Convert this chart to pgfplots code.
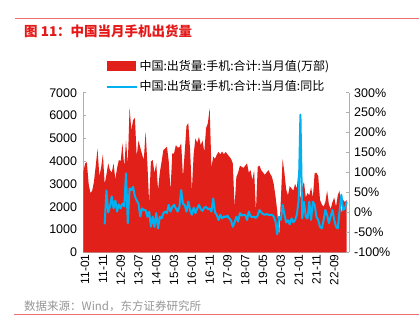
\documentclass[border=0pt]{standalone}
\usepackage{pgfplots}
\pgfplotsset{compat=1.18}
\usepackage{pgfplotstable}
\usepackage{fontspec}
\setmainfont{Liberation Sans}
\newfontfamily\cjk{Noto Sans CJK SC}
\definecolor{cred}{RGB}{226,32,26}
\definecolor{cblue}{RGB}{0,176,240}
\definecolor{ctitle}{RGB}{228,24,24}
\definecolor{cline}{RGB}{238,110,110}
\definecolor{cgray}{RGB}{150,150,150}
\definecolor{caxis}{RGB}{175,175,175}

\pgfplotstableread{
x y
-1 3500
0 3900
1 3950
2 3000
3 2600
4 2700
5 3100
6 3800
7 4550
8 3350
9 3700
10 4300
11 3000
12 3400
13 3900
14 3600
15 3500
16 3900
17 3200
18 3700
19 4050
20 4000
21 4780
22 3750
23 4900
24 3850
25 6350
26 5350
27 5800
28 5900
29 4200
30 4900
31 4600
32 4300
33 4050
34 5290
35 3900
36 2150
37 3980
38 4050
39 3470
40 3900
41 2730
42 3500
43 3980
44 4490
45 4550
46 4630
47 4000
48 2700
49 4340
50 4340
51 4700
52 4600
53 4600
54 4780
55 3300
56 4410
57 5550
58 5660
59 4500
60 2700
61 4300
62 5000
63 4800
64 5060
65 4700
66 4900
67 4400
68 5450
69 5660
70 6330
71 3700
72 4200
73 4100
74 4280
75 4400
76 4300
77 4420
78 4300
79 4400
80 4300
81 4200
82 4100
83 3900
84 2000
85 3300
86 3500
87 3800
88 3750
89 3700
90 3800
91 3900
92 3500
93 3600
94 3170
95 3600
96 1800
97 3750
98 3800
99 3600
100 3500
101 3400
102 3500
103 3600
104 3450
105 3300
106 3000
107 2450
108 1800
109 700
110 2300
111 4100
112 3500
113 2750
114 2500
115 2900
116 2800
117 2700
118 3000
119 2800
120 3700
121 2300
122 2850
123 3100
124 2400
125 2600
126 2500
127 2850
128 2400
129 3480
130 3480
131 3350
132 2300
133 2100
134 2000
135 2200
136 2700
137 2100
138 1900
139 2200
140 2400
141 2000
142 2500
143 2700
144 1700
145 2300
146 2200
147 2300
}\redtab

\pgfplotstableread{
x y
11 -30
12 55
13 0
14 15
15 40
16 10
17 30
18 2
19 20
20 10
21 22
22 15
23 98
24 -27
25 60
26 56
27 64
28 40
29 30
30 22
31 -10
32 10
33 6
34 6
35 -11
36 2
37 -36
38 -11
39 -36
40 -2
41 -40
42 -11
43 -15
44 -2
45 2
46 -2
47 19
48 2
49 14
50 19
51 10
52 2
53 14
54 56
55 22
56 18
57 2
58 27
59 6
60 -6
61 12
62 -2
63 10
64 19
65 8
66 4
67 12
68 14
69 8
70 10
71 2
72 35
73 0
74 -6
75 -19
76 -6
77 -15
78 -10
79 -12
80 -8
81 -15
82 -20
83 -36
84 -25
85 -11
86 -23
87 -2
88 -8
89 -6
90 -6
91 -19
92 2
93 -10
94 -12
95 -11
96 -14
97 -8
98 6
99 0
100 -4
101 -6
102 -4
103 -6
104 -6
105 -6
106 -10
107 -23
108 -55
109 -11
110 -19
111 19
112 -5
113 -25
114 -20
115 -30
116 -15
117 -25
118 -19
119 -6
120 30
121 245
122 -15
123 27
124 -11
125 -15
126 27
127 -19
128 27
129 19
130 -11
131 -19
132 -36
133 -40
134 -20
135 6
136 -6
137 -27
138 -10
139 6
140 -19
141 -36
142 -40
143 5
144 44
145 6
146 10
147 27
}\bluetab

\begin{document}
\begin{tikzpicture}
\useasboundingbox (0pt,0pt) rectangle (419pt,330pt);
\draw[cline, line width=1pt] (15pt,311pt) -- (419pt,311pt);
\node[anchor=west, text=ctitle, font=\cjk\bfseries\fontsize{13.5}{15}\selectfont, inner sep=0pt] at (24pt,299pt) {图 11：中国当月手机出货量};

\begin{axis}[
  at={(83.3pt,77.7pt)}, anchor=south west,
  scale only axis, width=265.7pt, height=159.6pt,
  xmin=-1, xmax=148.3, ymin=0, ymax=7000,
  axis y line*=left, axis x line*=bottom,
  axis line style={caxis, line width=0.8pt},
  tick style={caxis, line width=0.8pt},
  tick align=inside, major tick length=3pt,
  xtick={0,10,...,140},
  xticklabels={11-01,11-11,12-09,13-07,14-05,15-03,16-01,16-11,17-09,18-07,19-05,20-03,21-01,21-11,22-09},
  xticklabel style={rotate=90, anchor=east, font=\fontsize{12}{12}\selectfont, inner sep=2pt},
  ytick={0,1000,...,7000},
  yticklabels={0,1000,2000,3000,4000,5000,6000,7000},
  yticklabel style={font=\fontsize{12.5}{12.5}\selectfont, inner sep=2pt, xshift=-4pt},
  legend style={draw=none, fill=none, at={(0.072,1.23)}, anchor=north west,
    font=\cjk\fontsize{12}{14}\selectfont, row sep=5pt, cells={anchor=west}},
  legend cell align=left,
]
\addplot[fill=cred, draw=none,
  legend image code/.code={\fill[cred] (0pt,-5pt) rectangle (29pt,5pt);}]
  table[x=x,y=y]{\redtab} \closedcycle;
\addlegendentry{中国:出货量:手机:合计:当月值(万部)}
\addlegendimage{legend image code/.code={\draw[cblue, line width=2pt] (0pt,0pt) -- (30pt,0pt);}}
\addlegendentry{中国:出货量:手机:合计:当月值:同比}
\end{axis}

\begin{axis}[
  at={(83.3pt,77.7pt)}, anchor=south west,
  scale only axis, width=265.7pt, height=159.6pt,
  xmin=-1, xmax=148.3, ymin=-100, ymax=300,
  axis y line*=right, axis x line=none,
  axis line style={caxis, line width=0.8pt},
  tick style={caxis, line width=0.8pt},
  tick align=inside, major tick length=3pt,
  ytick={-100,-50,...,300},
  yticklabels={-100\%,-50\%,0\%,50\%,100\%,150\%,200\%,250\%,300\%},
  yticklabel style={font=\fontsize{12.5}{12.5}\selectfont, inner sep=2pt, xshift=3pt},
]
\addplot[cblue, line width=2pt, line join=round] table[x=x,y=y]{\bluetab};
\end{axis}

\node[anchor=west, text=cgray, font=\cjk\fontsize{11.5}{13}\selectfont, inner sep=0pt] at (24pt,24pt) {数据来源：Wind，东方证券研究所};
\draw[cline, line width=1pt] (14pt,16pt) -- (419pt,16pt);
\end{tikzpicture}
\end{document}
